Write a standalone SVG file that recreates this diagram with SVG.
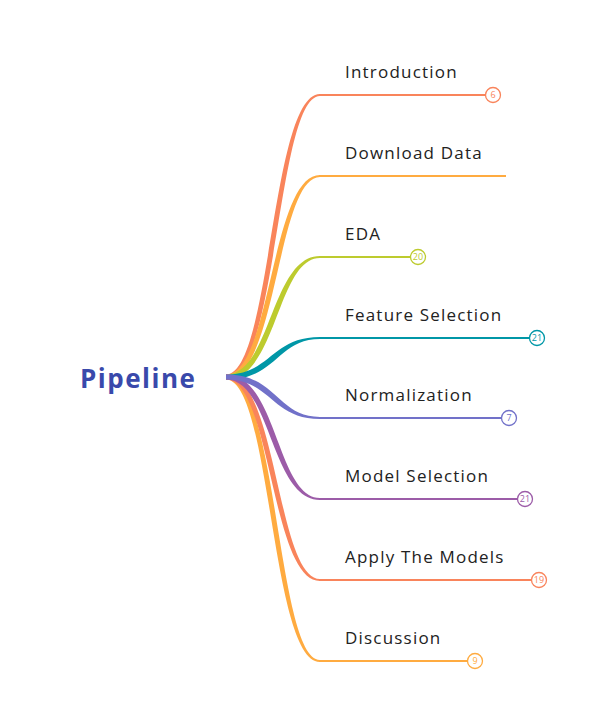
<svg xmlns="http://www.w3.org/2000/svg" width="597" height="713" viewBox="0 0 597 713">
<style>
.lbl{font-family:"Open Sans","Liberation Sans",sans-serif;font-size:17px;letter-spacing:1.2px;fill:#222}
.num{font-family:"Open Sans","Liberation Sans",sans-serif;font-size:9px;text-anchor:middle}
.hl{fill:none;stroke-width:2}
.badge{fill:#fff;stroke-width:1.3}
</style>
<rect width="597" height="713" fill="#fff"/>
<g id="root"><text x="80" y="388" font-family="'Open Sans','Liberation Sans',sans-serif" font-size="26" font-weight="bold" letter-spacing="1.5" fill="#3949AB">Pipeline</text></g>
<g id="connectors">
<path fill="#F9845B" d="M226 374.5 C271 374.5 271 94 320 94 L320 96 C277 96 277 379.5 226 379.5 Z"/>
<path fill="#FFAB40" d="M226 374.5 C271 374.5 271 175 320 175 L320 177 C277 177 277 379.5 226 379.5 Z"/>
<path fill="#BDCB2E" d="M226 374.5 C271 374.5 271 256 320 256 L320 258 C277 258 277 379.5 226 379.5 Z"/>
<path fill="#0097A7" d="M226 374.5 C271 374.5 271 337 320 337 L320 339 C277 339 277 379.5 226 379.5 Z"/>
<path fill="#FFAB40" d="M226 374.5 C277 374.5 277 660 320 660 L320 662 C271 662 271 379.5 226 379.5 Z"/>
<path fill="#F9845B" d="M226 374.5 C277 374.5 277 579 320 579 L320 581 C271 581 271 379.5 226 379.5 Z"/>
<path fill="#9C5CA8" d="M226 374.5 C277 374.5 277 498 320 498 L320 500 C271 500 271 379.5 226 379.5 Z"/>
<path fill="#7171C9" d="M226 374.5 C277 374.5 277 417 320 417 L320 419 C271 419 271 379.5 226 379.5 Z"/>
<path class="hl" stroke="#F9845B" d="M319 95 H486"/>
<path class="hl" stroke="#FFAB40" d="M319 176 H506"/>
<path class="hl" stroke="#BDCB2E" d="M319 257 H411"/>
<path class="hl" stroke="#0097A7" d="M319 338 H530"/>
<path class="hl" stroke="#7171C9" d="M319 418 H502"/>
<path class="hl" stroke="#9C5CA8" d="M319 499 H518"/>
<path class="hl" stroke="#F9845B" d="M319 580 H532"/>
<path class="hl" stroke="#FFAB40" d="M319 661 H468"/>
</g>
<g id="n1"><text class="lbl" x="345" y="78">Introduction</text><circle class="badge" stroke="#F9845B" cx="493" cy="95" r="7.5"/><text class="num" fill="#F9845B" x="493" y="98.2">6</text></g>
<g id="n2"><text class="lbl" x="345" y="159">Download Data</text></g>
<g id="n3"><text class="lbl" x="345" y="240">EDA</text><circle class="badge" stroke="#BDCB2E" cx="418" cy="257" r="7.5"/><text class="num" fill="#BDCB2E" x="418" y="260.2">20</text></g>
<g id="n4"><text class="lbl" x="345" y="321">Feature Selection</text><circle class="badge" stroke="#0097A7" cx="537" cy="338" r="7.5"/><text class="num" fill="#0097A7" x="537" y="341.2">21</text></g>
<g id="n5"><text class="lbl" x="345" y="401">Normalization</text><circle class="badge" stroke="#7171C9" cx="509" cy="418" r="7.5"/><text class="num" fill="#7171C9" x="509" y="421.2">7</text></g>
<g id="n6"><text class="lbl" x="345" y="482">Model Selection</text><circle class="badge" stroke="#9C5CA8" cx="525" cy="499" r="7.5"/><text class="num" fill="#9C5CA8" x="525" y="502.2">21</text></g>
<g id="n7"><text class="lbl" x="345" y="563">Apply The Models</text><circle class="badge" stroke="#F9845B" cx="539" cy="580" r="7.5"/><text class="num" fill="#F9845B" x="539" y="583.2">19</text></g>
<g id="n8"><text class="lbl" x="345" y="644">Discussion</text><circle class="badge" stroke="#FFAB40" cx="475" cy="661" r="7.5"/><text class="num" fill="#FFAB40" x="475" y="664.2">9</text></g>
</svg>
